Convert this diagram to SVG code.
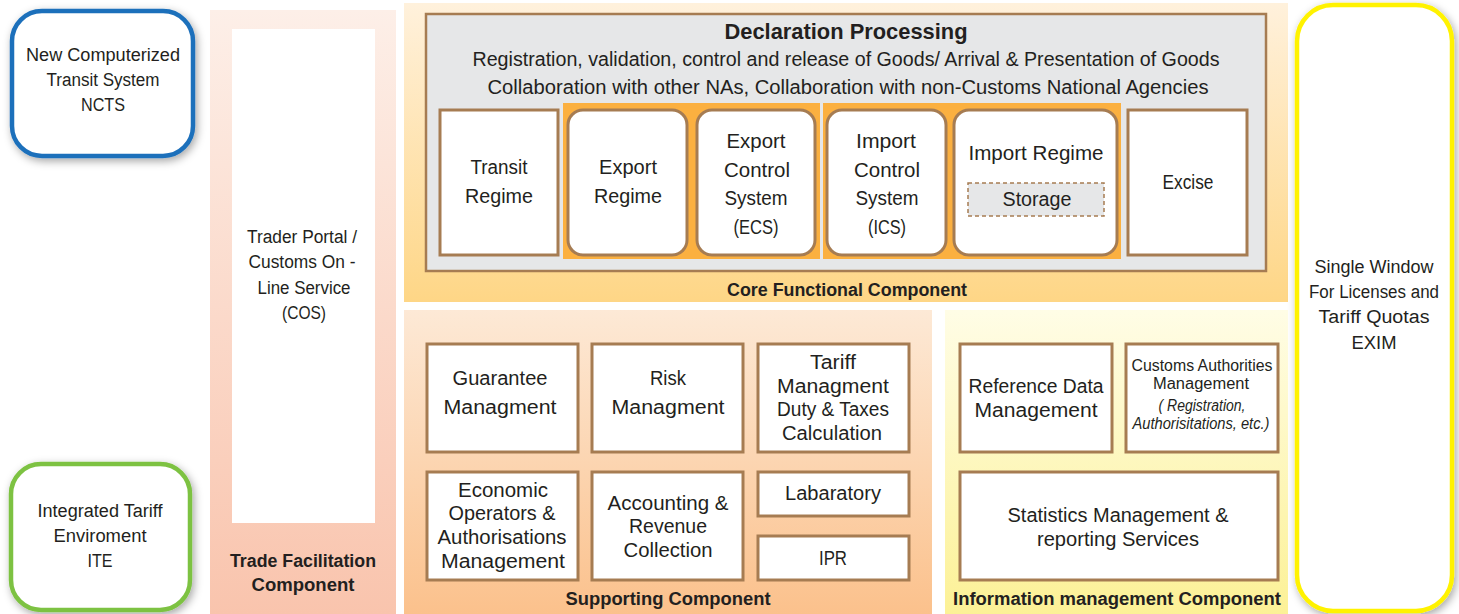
<svg xmlns="http://www.w3.org/2000/svg" width="1459" height="614" viewBox="0 0 1459 614">
<defs>
<linearGradient id="gTrade" x1="0" y1="0" x2="0" y2="1"><stop offset="0" stop-color="#fdefe8"/><stop offset="1" stop-color="#f9c4ad"/></linearGradient>
<linearGradient id="gCore" x1="0" y1="0" x2="0" y2="1"><stop offset="0" stop-color="#fff1dc"/><stop offset="1" stop-color="#fed686"/></linearGradient>
<linearGradient id="gSup" x1="0" y1="0" x2="0" y2="1"><stop offset="0" stop-color="#fde9d6"/><stop offset="1" stop-color="#fbc18c"/></linearGradient>
<linearGradient id="gInfo" x1="0" y1="0" x2="0" y2="1"><stop offset="0" stop-color="#fffde6"/><stop offset="1" stop-color="#fcf196"/></linearGradient>
<filter id="sh" x="-20%" y="-20%" width="140%" height="140%"><feDropShadow dx="2" dy="3" stdDeviation="4" flood-color="#000" flood-opacity="0.35"/></filter>
<style>
text{font-family:"Liberation Sans",Arial,sans-serif;fill:#231f20;text-anchor:middle}
.t{font-size:20px}
.s{font-size:18px}
.b{font-weight:bold}
.box{fill:#fff;stroke:#a67c52;stroke-width:3}
.band{fill:#fbb040}
.ext{fill:#fff;stroke-width:4.5}
</style>
</defs>

<g id="ncts">
<rect class="ext" x="12" y="11" width="181" height="145" rx="30" stroke="#1f70bb" filter="url(#sh)"/>
<text class="s" x="103" y="61" textLength="154" lengthAdjust="spacingAndGlyphs">New Computerized</text>
<text class="s" x="103" y="86" textLength="113" lengthAdjust="spacingAndGlyphs">Transit System</text>
<text class="s" x="103" y="111" textLength="44" lengthAdjust="spacingAndGlyphs">NCTS</text>
</g>

<g id="ite">
<rect class="ext" x="11" y="464" width="179" height="146" rx="30" stroke="#7dc243" filter="url(#sh)"/>
<text class="s" x="100" y="517" textLength="125" lengthAdjust="spacingAndGlyphs">Integrated Tariff</text>
<text class="s" x="100" y="542" textLength="93" lengthAdjust="spacingAndGlyphs">Enviroment</text>
<text class="s" x="100" y="567" textLength="25" lengthAdjust="spacingAndGlyphs">ITE</text>
</g>

<g id="trade-facilitation">
<rect x="210" y="10" width="186" height="604" fill="url(#gTrade)"/>
<rect x="232" y="29" width="143" height="494" fill="#fff"/>
<text class="s" x="302" y="243" textLength="110" lengthAdjust="spacingAndGlyphs">Trader Portal /</text>
<text class="s" x="302" y="268" textLength="107" lengthAdjust="spacingAndGlyphs">Customs On -</text>
<text class="s" x="304" y="294" textLength="93" lengthAdjust="spacingAndGlyphs">Line Service</text>
<text class="s" x="304" y="319" textLength="44" lengthAdjust="spacingAndGlyphs">(COS)</text>
<text class="s b" x="303" y="567" textLength="146" lengthAdjust="spacingAndGlyphs">Trade Facilitation</text>
<text class="s b" x="303" y="591" textLength="103" lengthAdjust="spacingAndGlyphs">Component</text>
</g>

<g id="core">
<rect x="404" y="3" width="884" height="299" fill="url(#gCore)"/>
<rect x="426" y="14" width="840" height="257" fill="#e6e7e8" stroke="#a67c52" stroke-width="2.5"/>
<text class="b" x="846" y="39" font-size="22" textLength="243" lengthAdjust="spacingAndGlyphs">Declaration Processing</text>
<text class="t" x="846" y="66" textLength="747" lengthAdjust="spacingAndGlyphs">Registration, validation, control and release of Goods/ Arrival &amp; Presentation of Goods</text>
<text class="t" x="848" y="94" textLength="721" lengthAdjust="spacingAndGlyphs">Collaboration with other NAs,  Collaboration with non-Customs National Agencies</text>
<rect class="band" x="563" y="103" width="257" height="156"/>
<rect class="band" x="823" y="103" width="298" height="156"/>
<text class="s b" x="847" y="296" textLength="240" lengthAdjust="spacingAndGlyphs">Core Functional Component</text>
</g>

<g id="transit-regime">
<rect class="box" x="440" y="110" width="118" height="145"/>
<text class="t" x="499" y="174" textLength="57" lengthAdjust="spacingAndGlyphs">Transit</text>
<text class="t" x="499" y="203" textLength="68" lengthAdjust="spacingAndGlyphs">Regime</text>
</g>
<g id="export-regime">
<rect class="box" x="568" y="110" width="119" height="145" rx="15"/>
<text class="t" x="628" y="174" textLength="58" lengthAdjust="spacingAndGlyphs">Export</text>
<text class="t" x="628" y="203" textLength="68" lengthAdjust="spacingAndGlyphs">Regime</text>
</g>
<g id="ecs">
<rect class="box" x="697" y="110" width="118" height="145" rx="15"/>
<text class="t" x="756" y="148" textLength="59" lengthAdjust="spacingAndGlyphs">Export</text>
<text class="t" x="757" y="177" textLength="66" lengthAdjust="spacingAndGlyphs">Control</text>
<text class="t" x="756" y="205" textLength="63" lengthAdjust="spacingAndGlyphs">System</text>
<text class="t" x="756" y="234" textLength="45" lengthAdjust="spacingAndGlyphs">(ECS)</text>
</g>
<g id="ics">
<rect class="box" x="827" y="110" width="119" height="145" rx="15"/>
<text class="t" x="886" y="148" textLength="60" lengthAdjust="spacingAndGlyphs">Import</text>
<text class="t" x="887" y="177" textLength="66" lengthAdjust="spacingAndGlyphs">Control</text>
<text class="t" x="887" y="205" textLength="63" lengthAdjust="spacingAndGlyphs">System</text>
<text class="t" x="887" y="234" textLength="38" lengthAdjust="spacingAndGlyphs">(ICS)</text>
</g>
<g id="import-regime">
<rect class="box" x="954" y="110" width="163" height="145" rx="15"/>
<text class="t" x="1036" y="160" textLength="135" lengthAdjust="spacingAndGlyphs">Import Regime</text>
<rect x="968" y="183" width="136" height="33" fill="#e6e7e8" stroke="#a67c52" stroke-width="1.5" stroke-dasharray="4,3"/>
<text class="t" x="1037" y="206" textLength="69" lengthAdjust="spacingAndGlyphs">Storage</text>
</g>
<g id="excise">
<rect class="box" x="1128" y="110" width="119" height="145"/>
<text class="t" x="1188" y="189" textLength="51" lengthAdjust="spacingAndGlyphs">Excise</text>
</g>

<g id="single-window">
<rect class="ext" x="1297" y="5" width="155" height="606" rx="36" stroke="#fff200" stroke-width="5" filter="url(#sh)"/>
<text class="s" x="1374" y="273" textLength="119" lengthAdjust="spacingAndGlyphs">Single Window</text>
<text class="s" x="1374" y="298" textLength="130" lengthAdjust="spacingAndGlyphs">For Licenses and</text>
<text class="s" x="1374" y="323" textLength="111" lengthAdjust="spacingAndGlyphs">Tariff Quotas</text>
<text class="s" x="1374" y="349" textLength="45" lengthAdjust="spacingAndGlyphs">EXIM</text>
</g>

<g id="supporting">
<rect x="404" y="310" width="528" height="304" fill="url(#gSup)"/>
<text class="s b" x="668" y="605" textLength="205" lengthAdjust="spacingAndGlyphs">Supporting Component</text>
</g>
<g id="guarantee">
<rect class="box" x="427" y="344" width="151" height="108"/>
<text class="t" x="500" y="385" textLength="95" lengthAdjust="spacingAndGlyphs">Guarantee</text>
<text class="t" x="500" y="414" textLength="113" lengthAdjust="spacingAndGlyphs">Managment</text>
</g>
<g id="risk">
<rect class="box" x="592" y="344" width="151" height="108"/>
<text class="t" x="668" y="385" textLength="36" lengthAdjust="spacingAndGlyphs">Risk</text>
<text class="t" x="668" y="414" textLength="113" lengthAdjust="spacingAndGlyphs">Managment</text>
</g>
<g id="tariff">
<rect class="box" x="758" y="344" width="151" height="108"/>
<text class="t" x="833" y="369" textLength="46" lengthAdjust="spacingAndGlyphs">Tariff</text>
<text class="t" x="833" y="393" textLength="112" lengthAdjust="spacingAndGlyphs">Managment</text>
<text class="t" x="833" y="416" textLength="112" lengthAdjust="spacingAndGlyphs">Duty &amp; Taxes</text>
<text class="t" x="832" y="440" textLength="100" lengthAdjust="spacingAndGlyphs">Calculation</text>
</g>
<g id="economic-operators">
<rect class="box" x="427" y="472" width="151" height="108"/>
<text class="t" x="503" y="497" textLength="90" lengthAdjust="spacingAndGlyphs">Economic</text>
<text class="t" x="502" y="520" textLength="107" lengthAdjust="spacingAndGlyphs">Operators &amp;</text>
<text class="t" x="502" y="544" textLength="129" lengthAdjust="spacingAndGlyphs">Authorisations</text>
<text class="t" x="503" y="568" textLength="124" lengthAdjust="spacingAndGlyphs">Management</text>
</g>
<g id="accounting">
<rect class="box" x="592" y="472" width="151" height="108"/>
<text class="t" x="668" y="510" textLength="121" lengthAdjust="spacingAndGlyphs">Accounting &amp;</text>
<text class="t" x="668" y="533" textLength="78" lengthAdjust="spacingAndGlyphs">Revenue</text>
<text class="t" x="668" y="557" textLength="89" lengthAdjust="spacingAndGlyphs">Collection</text>
</g>
<g id="labaratory">
<rect class="box" x="758" y="472" width="151" height="44"/>
<text class="t" x="833" y="500" textLength="96" lengthAdjust="spacingAndGlyphs">Labaratory</text>
</g>
<g id="ipr">
<rect class="box" x="758" y="536" width="151" height="44"/>
<text class="t" x="833" y="565" textLength="28" lengthAdjust="spacingAndGlyphs">IPR</text>
</g>

<g id="information">
<rect x="945" y="310" width="343" height="304" fill="url(#gInfo)"/>
<text class="s b" x="1117" y="605" textLength="328" lengthAdjust="spacingAndGlyphs">Information management Component</text>
</g>
<g id="reference-data">
<rect class="box" x="960" y="344" width="152" height="108"/>
<text class="t" x="1036" y="393" textLength="135" lengthAdjust="spacingAndGlyphs">Reference Data</text>
<text class="t" x="1036" y="417" textLength="123" lengthAdjust="spacingAndGlyphs">Management</text>
</g>
<g id="customs-authorities">
<rect class="box" x="1126" y="344" width="152" height="108"/>
<text x="1202" y="371" font-size="16" textLength="141" lengthAdjust="spacingAndGlyphs">Customs Authorities</text>
<text x="1201" y="389" font-size="16" textLength="96" lengthAdjust="spacingAndGlyphs">Management</text>
<text x="1202" y="411" font-size="16" font-style="italic" textLength="87" lengthAdjust="spacingAndGlyphs">( Registration,</text>
<text x="1201" y="429" font-size="16" font-style="italic" textLength="137" lengthAdjust="spacingAndGlyphs">Authorisitations, etc.)</text>
</g>
<g id="statistics">
<rect class="box" x="960" y="472" width="318" height="108"/>
<text class="t" x="1118" y="522" textLength="221" lengthAdjust="spacingAndGlyphs">Statistics Management &amp;</text>
<text class="t" x="1118" y="546" textLength="162" lengthAdjust="spacingAndGlyphs">reporting Services</text>
</g>

<g id="connectors"></g>
</svg>
